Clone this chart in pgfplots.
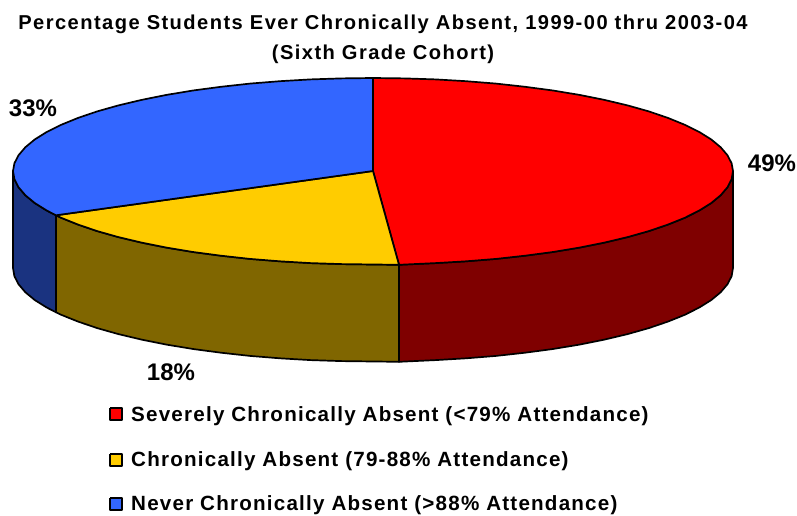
\documentclass[border=0pt]{standalone}
\usepackage{fontspec}
\setmainfont{Liberation Sans}
\newfontfamily\tfont[LetterSpace=7.2]{Liberation Sans}
\newfontfamily\lfont[LetterSpace=5.9]{Liberation Sans}
\usepackage{pgfplots}
\pgfplotsset{compat=1.18}
\definecolor{cRed}{HTML}{FF0000}
\definecolor{cYel}{HTML}{FFCC00}
\definecolor{cBlu}{HTML}{3366FF}
\definecolor{dRed}{HTML}{7F0000}
\definecolor{dYel}{HTML}{806600}
\definecolor{dBlu}{HTML}{1A3380}
\newcommand{\ttl}[1]{{\tfont\fontsize{20.1}{22}\selectfont\bfseries #1}}
\newcommand{\leg}[1]{{\lfont\fontsize{20.6}{22}\selectfont\bfseries #1}}
\newcommand{\lab}[1]{{\fontsize{24}{26}\selectfont\bfseries #1}}
\begin{document}
\begin{tikzpicture}
\begin{axis}[
  scale only axis, width=797pt, height=516pt,
  xmin=0, xmax=797, ymin=0, ymax=516, y dir=reverse,
  hide axis, clip=false,
  every axis plot/.append style={draw=black, line width=1.7pt, no markers, line join=round},
]
\path (axis cs:0,0) (axis cs:797,516);
% side walls
\addplot[fill=dRed] coordinates {(733,171)(731.6,179.2)(727.5,187.2)(720.7,195.2)(711.3,203)(699.3,210.5)(684.8,217.8)(667.9,224.6)(648.8,231.1)(627.6,237.1)(604.4,242.6)(579.5,247.6)(553,252)(525.1,255.7)(496.1,258.9)(466.2,261.3)(435.5,263.1)(399,264.8)
 (399,361.8)(435.5,360.1)(466.2,358.3)(496.1,355.9)(525.1,352.7)(553,349)(579.5,344.6)(604.4,339.6)(627.6,334.1)(648.8,328.1)(667.9,321.6)(684.8,314.8)(699.3,307.5)(711.3,300)(720.7,292.2)(727.5,284.2)(731.6,276.2)(733,268) (733,171)};
\addplot[fill=dYel] coordinates {(399,264.8)(341.6,264.1)(310.5,263.1)(279.8,261.3)(249.9,258.9)(220.9,255.7)(193,252)(166.5,247.6)(141.6,242.6)(118.4,237.1)(97.2,231.1)(78.1,224.6)(61.2,217.8)(56,215.3)
 (56,312.3)(61.2,314.8)(78.1,321.6)(97.2,328.1)(118.4,334.1)(141.6,339.6)(166.5,344.6)(193,349)(220.9,352.7)(249.9,355.9)(279.8,358.3)(310.5,360.1)(341.6,361.1)(399,361.8) (399,264.8)};
\addplot[fill=dBlu] coordinates {(56,215.3)(46.7,210.5)(34.7,203)(25.3,195.2)(18.5,187.2)(14.4,179.2)(13,171)
 (13,268)(14.4,276.2)(18.5,284.2)(25.3,292.2)(34.7,300)(46.7,307.5)(56,312.3) (56,215.3)};
% top slices
\addplot[fill=cRed] coordinates {(373,171)(373,78)(404.4,78.4)(435.5,79.4)(466.2,81.2)(496.1,83.6)(525.1,86.8)(553,90.5)(579.5,94.9)(604.4,99.9)(627.6,105.4)(648.8,111.4)(667.9,117.9)(684.8,124.8)(699.3,132)(711.3,139.5)(720.7,147.3)(727.5,155.3)(731.6,163.3)(733,171)(731.6,179.2)(727.5,187.2)(720.7,195.2)(711.3,203)(699.3,210.5)(684.8,217.8)(667.9,224.6)(648.8,231.1)(627.6,237.1)(604.4,242.6)(579.5,247.6)(553,252)(525.1,255.7)(496.1,258.9)(466.2,261.3)(435.5,263.1)(399,264.8)(373,171)};
\addplot[fill=cYel] coordinates {(373,171)(399,264.8)(341.6,264.1)(310.5,263.1)(279.8,261.3)(249.9,258.9)(220.9,255.7)(193,252)(166.5,247.6)(141.6,242.6)(118.4,237.1)(97.2,231.1)(78.1,224.6)(61.2,217.8)(56,215.3)(373,171)};
\addplot[fill=cBlu] coordinates {(373,171)(56,215.3)(46.7,210.5)(34.7,203)(25.3,195.2)(18.5,187.2)(14.4,179.2)(13,171)(14.4,163.3)(18.5,155.3)(25.3,147.3)(34.7,139.5)(46.7,132)(61.2,124.8)(78.1,117.9)(97.2,111.4)(118.4,105.4)(141.6,99.9)(166.5,94.9)(193,90.5)(220.9,86.8)(249.9,83.6)(279.8,81.2)(310.5,79.4)(341.6,78.4)(373,78)(373,171)};
% legend swatches
\addplot[fill=cRed] coordinates {(110,408)(122,408)(122,420)(110,420)(110,408)};
\addplot[fill=cYel] coordinates {(110,454)(122,454)(122,466)(110,466)(110,454)};
\addplot[fill=cBlu] coordinates {(110,498)(122,498)(122,510)(110,510)(110,498)};
% text
\node[anchor=center, inner sep=0pt] at (axis cs:383,24) {\ttl{Percentage Students Ever Chronically Absent, 1999-00 thru 2003-04}};
\node[anchor=center, inner sep=0pt] at (axis cs:383,54) {\ttl{(Sixth Grade Cohort)}};
\node[inner sep=0pt] at (axis cs:33,108) {\lab{33\%}};
\node[inner sep=0pt] at (axis cs:772,163) {\lab{49\%}};
\node[inner sep=0pt] at (axis cs:171,372) {\lab{18\%}};
\node[anchor=west, inner sep=0pt] at (axis cs:131,416.5) {\leg{Severely Chronically Absent (<79\% Attendance)}};
\node[anchor=west, inner sep=0pt] at (axis cs:131,461.5) {\leg{Chronically Absent (79-88\% Attendance)}};
\node[anchor=west, inner sep=0pt] at (axis cs:131,505.5) {\leg{Never Chronically Absent (>88\% Attendance)}};
\end{axis}
\end{tikzpicture}
\end{document}
